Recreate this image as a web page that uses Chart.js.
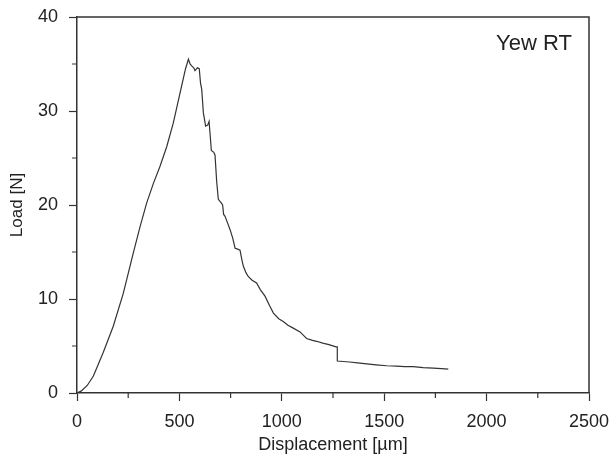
<!DOCTYPE html>
<html lang="en">
<head>
    <meta charset="UTF-8">
    <title>Yew RT load-displacement</title>
    <script src="https://cdn.jsdelivr.net/npm/chart.js@4.4.1/dist/chart.umd.min.js"></script>
    <style>
        html, body {
            margin: 0;
            padding: 0;
            background: #fff;
        }

        .chart-container {
            width: 611px;
            height: 461px;
        }
    </style>
</head>
<body>
    <div class="chart-container">
        <canvas id="myChart"></canvas>
    </div>
    <script>
        // values
        const displacement = [0, 20, 50, 80, 128, 177, 226, 275, 308, 340, 373, 405, 438, 470, 503, 530, 544, 552, 560, 570, 576, 588, 597, 603, 609, 617, 628, 638, 645, 650, 656, 668, 674, 682, 690, 705, 711, 716, 723, 735, 747, 760, 772, 785, 796, 805, 812, 825, 836, 855, 877, 895, 918, 940, 959, 985, 1007, 1030, 1056, 1089, 1121, 1150, 1170, 1200, 1230, 1265, 1271, 1271, 1300, 1330, 1370, 1415, 1460, 1512, 1560, 1600, 1642, 1690, 1740, 1780, 1813];
        const load = [0, 0.2, 0.8, 1.8, 4.3, 7.1, 10.6, 14.9, 17.7, 20.2, 22.3, 24.1, 26.2, 28.7, 31.9, 34.5, 35.5, 35.0, 34.8, 34.6, 34.3, 34.6, 34.5, 33.0, 32.3, 29.8, 28.4, 28.5, 28.9, 27.5, 25.8, 25.6, 25.3, 22.5, 20.6, 20.2, 20.0, 19.0, 18.8, 18.1, 17.4, 16.5, 15.4, 15.3, 15.2, 14.2, 13.5, 12.8, 12.4, 12.0, 11.7, 11.0, 10.3, 9.3, 8.5, 7.9, 7.6, 7.2, 6.9, 6.5, 5.8, 5.6, 5.5, 5.3, 5.15, 4.9, 4.9, 3.4, 3.35, 3.3, 3.2, 3.1, 3.0, 2.9, 2.85, 2.8, 2.8, 2.7, 2.65, 2.6, 2.55];

        const xMinorTicks = [250, 750, 1250, 1750, 2250];
        const yMinorTicks = [5, 15, 25, 35];
        const label = 'Yew RT';

        const ink = '#222';
        const font = "'Liberation Sans', Arial, sans-serif";

        const points = displacement.map((x, i) => ({ x: x, y: load[i] }));

        // box frame, minor ticks and the in-plot label
        const extras = {
            id: 'extras',
            afterDraw(chart) {
                const c = chart.ctx;
                const a = chart.chartArea;
                const xs = chart.scales.x;
                const ys = chart.scales.y;
                c.save();
                c.strokeStyle = '#333';
                c.lineWidth = 1.5;
                c.beginPath();
                c.moveTo(a.left, a.top);
                c.lineTo(a.right, a.top);
                c.lineTo(a.right, a.bottom);
                c.stroke();

                c.lineWidth = 1.2;
                c.beginPath();
                xMinorTicks.forEach(v => {
                    const px = xs.getPixelForValue(v);
                    c.moveTo(px, a.bottom);
                    c.lineTo(px, a.bottom + 5);
                });
                yMinorTicks.forEach(v => {
                    const py = ys.getPixelForValue(v);
                    c.moveTo(a.left, py);
                    c.lineTo(a.left - 5, py);
                });
                c.stroke();

                c.fillStyle = ink;
                c.font = '22px ' + font;
                c.textAlign = 'center';
                c.textBaseline = 'middle';
                c.fillText(label, a.right - 55, a.top + 27);
                c.restore();
            }
        };

        const ctx = document.getElementById('myChart').getContext('2d');
        new Chart(ctx, {
            type: 'scatter',
            data: {
                datasets: [{
                    data: points,
                    showLine: true,
                    borderColor: '#333',
                    borderWidth: 1.2,
                    pointRadius: 0,
                    tension: 0
                }]
            },
            options: {
                responsive: true,
                maintainAspectRatio: false,
                animation: false,
                layout: {
                    padding: { top: 17, right: 22, left: 0, bottom: 0 }
                },
                plugins: {
                    legend: { display: false },
                    tooltip: { enabled: false }
                },
                scales: {
                    x: {
                        type: 'linear',
                        min: 0,
                        max: 2500,
                        afterFit: scale => {
                            scale.height = 68;
                            scale.paddingLeft = 0;
                            scale.paddingRight = 0;
                        },
                        border: { display: true, color: '#333', width: 1.5 },
                        grid: {
                            drawOnChartArea: false,
                            drawTicks: true,
                            tickLength: 8,
                            tickColor: '#333',
                            tickWidth: 1.2
                        },
                        ticks: {
                            stepSize: 500,
                            padding: 10,
                            color: ink,
                            font: { family: font, size: 18 },
                            maxRotation: 0,
                            callback: v => String(v)
                        },
                        title: {
                            display: true,
                            text: 'Displacement [µm]',
                            color: ink,
                            font: { family: font, size: 18 },
                            padding: { top: 0, bottom: 5 }
                        }
                    },
                    y: {
                        min: 0,
                        max: 40,
                        afterFit: scale => {
                            scale.width = 77;
                            scale.paddingTop = 0;
                            scale.paddingBottom = 0;
                        },
                        border: { display: true, color: '#333', width: 1.5 },
                        grid: {
                            drawOnChartArea: false,
                            drawTicks: true,
                            tickLength: 8,
                            tickColor: '#333',
                            tickWidth: 1.2
                        },
                        ticks: {
                            stepSize: 10,
                            padding: 11,
                            color: ink,
                            font: { family: font, size: 18 },
                            callback: v => String(v)
                        },
                        title: {
                            display: true,
                            text: 'Load [N]',
                            color: ink,
                            font: { family: font, size: 17 },
                            padding: { top: 7, bottom: 0 }
                        }
                    }
                }
            },
            plugins: [extras]
        });
    </script>
</body>
</html>
